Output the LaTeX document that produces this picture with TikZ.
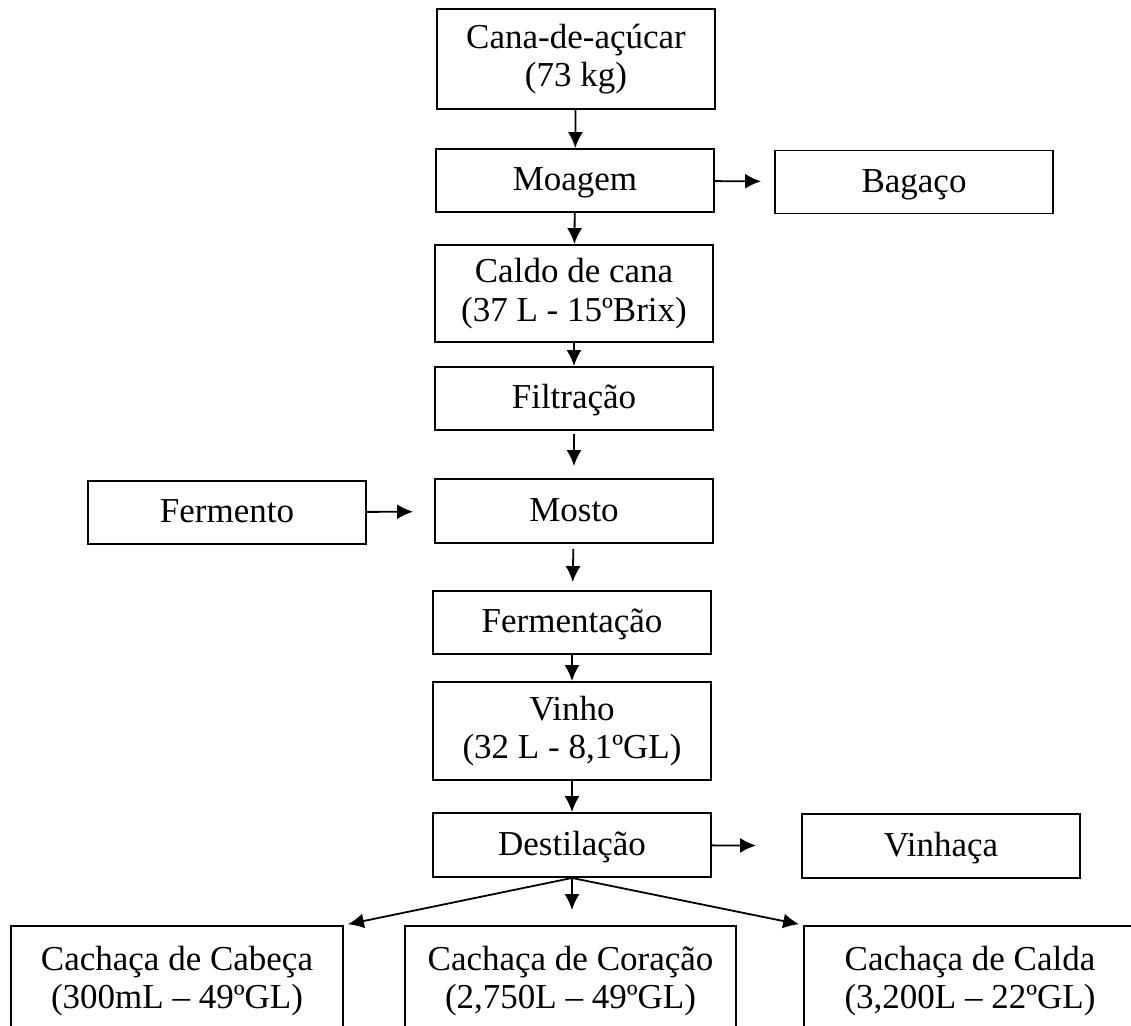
\documentclass[tikz,border=0pt]{standalone}
\usepackage{fontspec}
\setmainfont{Liberation Serif}
\usetikzlibrary{arrows.meta}

\tikzset{
  etapa/.style={draw, line width=1.9pt, minimum width=278pt, minimum height=63pt,
    inner sep=0pt, align=center, font=\fontsize{35}{38.5}\selectfont},
  simples/.style={text height=26pt, text depth=6pt},
  seta/.style={line width=1.8pt, -{Latex[length=16pt,width=15pt]}},
}

\begin{document}
\begin{tikzpicture}[x=1pt,y=-1pt]
\useasboundingbox (0,0) rectangle (1131,1025);
\clip (0,0) rectangle (1131,1025);

% coluna principal
\node[etapa,minimum height=100pt] (cana) at (576,59) {Cana-de-açúcar\\(73 kg)};
\node[etapa,simples] (moagem) at (575,180.5) {Moagem};
\node[etapa,minimum height=97pt] (caldo) at (574,293.5) {Caldo de cana\\(37 L - 15ºBrix)};
\node[etapa,simples] (filtracao) at (574,398.5) {Filtração};
\node[etapa,simples,minimum height=64pt] (mosto) at (574,511) {Mosto};
\node[etapa,simples] (fermentacao) at (572,622.5) {Fermentação};
\node[etapa,minimum height=98pt] (vinho) at (572,731) {Vinho\\(32 L - 8,1ºGL)};
\node[etapa,simples,minimum height=64pt] (destilacao) at (572,845) {Destilação};

% entradas e saidas laterais
\node[etapa,simples] (bagaco) at (914,182) {Bagaço};
\node[etapa,simples] (fermento) at (227,512.5) {Fermento};
\node[etapa,simples,minimum height=64pt] (vinhaca) at (941,846) {Vinhaça};

% fracoes do destilado (a base das caixas fica fora da folha)
\node[etapa,minimum width=332pt,minimum height=110pt] (cabeca) at (177,981) {Cachaça de Cabeça\\(300mL – 49ºGL)};
\node[etapa,minimum width=331pt,minimum height=110pt] (coracao) at (570.5,981) {Cachaça de Coração\\(2,750L – 49ºGL)};
\node[etapa,minimum width=332pt,minimum height=110pt] (calda) at (970,981) {Cachaça de Calda\\(3,200L – 22ºGL)};

% fluxo
\draw[seta] (cana) -- (moagem);
\draw[seta] (moagem) -- (caldo);
\draw[seta] (caldo) -- (filtracao);
\draw[seta,shorten <=3pt,shorten >=12pt] (filtracao) -- (mosto);
\draw[seta,shorten <=5pt,shorten >=8pt] (mosto) -- (fermentacao);
\draw[seta] (fermentacao) -- (vinho);
\draw[seta] (vinho) -- (destilacao);

\draw[seta,shorten >=13pt] (moagem) -- (bagaco);
\draw[seta,shorten >=21pt] (fermento) -- (mosto);
\draw[seta,shorten >=45pt] (destilacao) -- (vinhaca);

\draw[seta,shorten >=4pt] (destilacao.south) -- (cabeca.north east);
\draw[seta,shorten >=15pt] (destilacao.south) -- (destilacao.south |- coracao.north);
\draw[seta,shorten >=4pt] (destilacao.south) -- (calda.north west);

\end{tikzpicture}
\end{document}
